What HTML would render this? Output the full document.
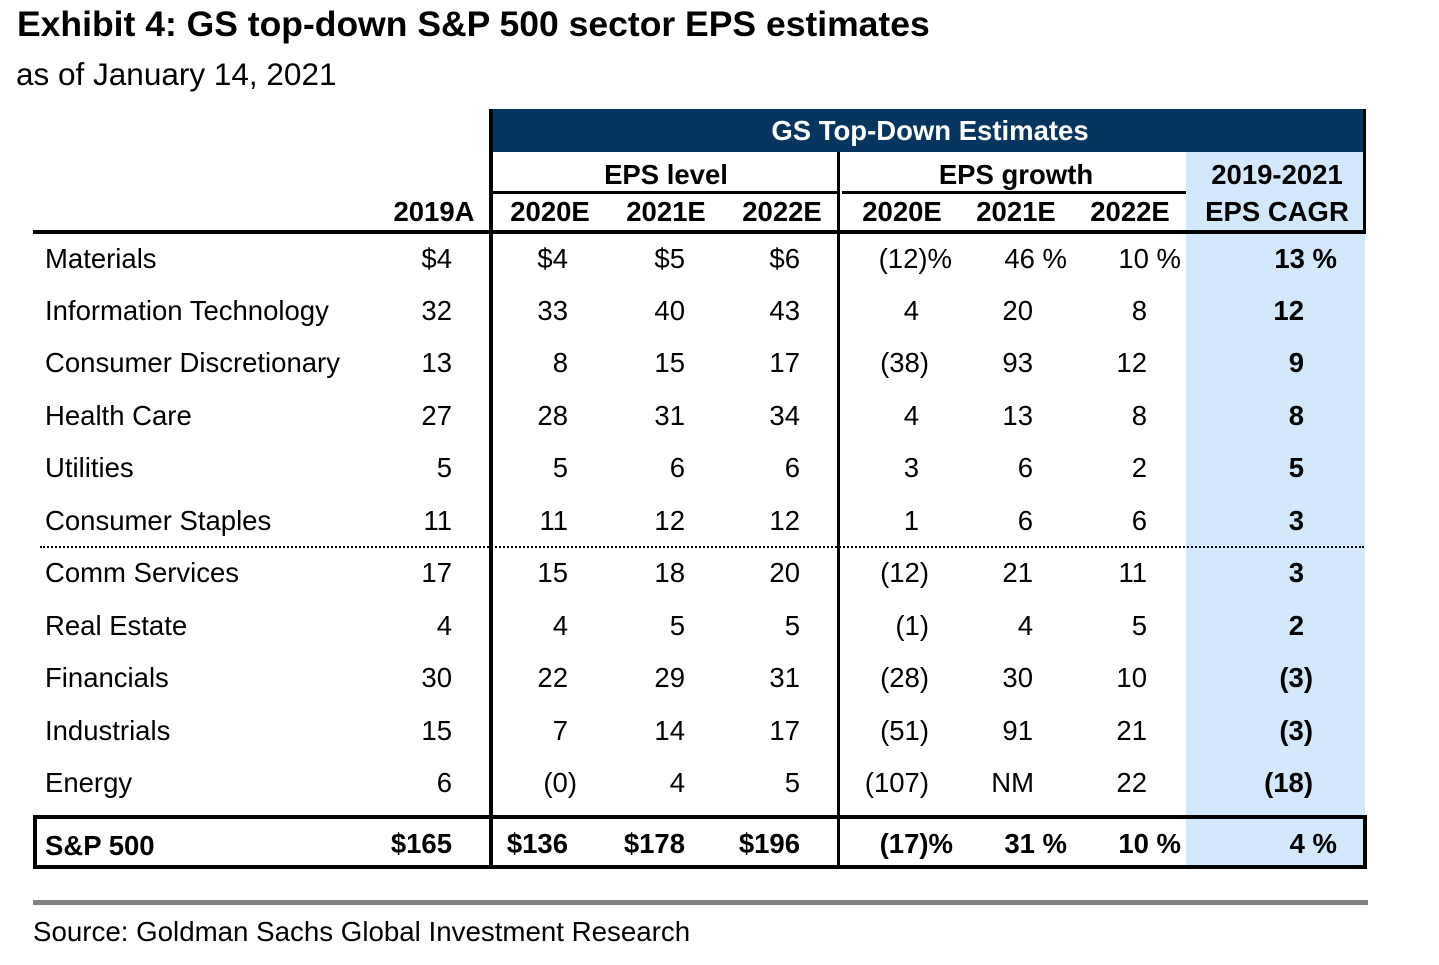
<!DOCTYPE html>
<html><head><meta charset="utf-8"><style>
body{margin:0;width:1439px;height:965px;background:#fff;position:relative;overflow:hidden;font-family:"Liberation Sans",Arial,sans-serif;color:#000}
div{position:absolute;white-space:nowrap}
.r,.c,.l{height:30px;line-height:30px;font-size:27.5px}
.r{left:0;text-align:right}
.c{text-align:center;width:400px}
.b{font-weight:bold}
</style></head><body>
<div style="left:17px;top:4px;font-size:35.5px;font-weight:bold;line-height:40px">Exhibit 4: GS top-down S&amp;P 500 sector EPS estimates</div>
<div style="left:16px;top:56px;font-size:31.5px;line-height:36px">as of January 14, 2021</div>

<div style="left:1186px;top:152px;width:179px;height:663px;background:#d3e8fb"></div>
<div style="left:1186px;top:815px;width:179px;height:52px;background:#d3e8fb"></div>
<div style="left:490px;top:109px;width:876px;height:43px;background:#06365f"></div>
<div style="left:489px;top:109px;width:4px;height:759px;background:#000"></div>
<div style="left:837px;top:152px;width:3px;height:716px;background:#000"></div>
<div style="left:1363px;top:109px;width:3px;height:124px;background:#000"></div>
<div style="left:492px;top:191px;width:346px;height:3px;background:#000"></div>
<div style="left:842px;top:191px;width:344px;height:3px;background:#000"></div>
<div style="left:33px;top:230px;width:1333px;height:4px;background:#000"></div>
<div style="left:40px;top:546px;width:1324px;height:0;border-top:2px dotted #000"></div>
<div style="left:33px;top:815px;width:1326px;height:46px;border:4px solid #000"></div>
<div style="left:33px;top:900px;width:1335px;height:5px;background:#808080"></div>
<div style="left:33px;top:916px;font-size:27.7px;line-height:32px">Source: Goldman Sachs Global Investment Research</div>

<div class="c b" style="left:730px;top:116px;color:#fff;">GS Top-Down Estimates</div>
<div class="c b" style="left:466px;top:160px">EPS level</div>
<div class="c b" style="left:816px;top:160px">EPS growth</div>
<div class="c b" style="left:1077px;top:160px">2019-2021</div>
<div class="c b" style="left:1077px;top:197px">EPS CAGR</div>
<div class="c b" style="left:234px;top:197px">2019A</div>
<div class="c b" style="left:350px;top:197px">2020E</div>
<div class="c b" style="left:466px;top:197px">2021E</div>
<div class="c b" style="left:582px;top:197px">2022E</div>
<div class="c b" style="left:702px;top:197px">2020E</div>
<div class="c b" style="left:816px;top:197px">2021E</div>
<div class="c b" style="left:930px;top:197px">2022E</div>

<div class="l" style="left:45px;top:244px">Materials</div>
<div class="l" style="left:45px;top:296px">Information Technology</div>
<div class="l" style="left:45px;top:348px">Consumer Discretionary</div>
<div class="l" style="left:45px;top:401px">Health Care</div>
<div class="l" style="left:45px;top:453px">Utilities</div>
<div class="l" style="left:45px;top:506px">Consumer Staples</div>
<div class="l" style="left:45px;top:558px">Comm Services</div>
<div class="l" style="left:45px;top:611px">Real Estate</div>
<div class="l" style="left:45px;top:663px">Financials</div>
<div class="l" style="left:45px;top:716px">Industrials</div>
<div class="l" style="left:45px;top:768px">Energy</div>
<div class="l b" style="left:45px;top:831px">S&amp;P 500</div>

<div class="r" style="top:244px;width:452px">$4</div>
<div class="r" style="top:244px;width:568px">$4</div>
<div class="r" style="top:244px;width:685px">$5</div>
<div class="r" style="top:244px;width:800px">$6</div>
<div class="r" style="top:244px;width:952px">(12)%</div>
<div class="r" style="top:244px;width:1067px">46 %</div>
<div class="r" style="top:244px;width:1181px">10 %</div>
<div class="r b" style="top:244px;width:1337px">13 %</div>

<div class="r" style="top:296px;width:452px">32</div>
<div class="r" style="top:296px;width:568px">33</div>
<div class="r" style="top:296px;width:685px">40</div>
<div class="r" style="top:296px;width:800px">43</div>
<div class="r" style="top:296px;width:919px">4</div>
<div class="r" style="top:296px;width:1033px">20</div>
<div class="r" style="top:296px;width:1147px">8</div>
<div class="r b" style="top:296px;width:1304px">12</div>

<div class="r" style="top:348px;width:452px">13</div>
<div class="r" style="top:348px;width:568px">8</div>
<div class="r" style="top:348px;width:685px">15</div>
<div class="r" style="top:348px;width:800px">17</div>
<div class="r" style="top:348px;width:929px">(38)</div>
<div class="r" style="top:348px;width:1033px">93</div>
<div class="r" style="top:348px;width:1147px">12</div>
<div class="r b" style="top:348px;width:1304px">9</div>

<div class="r" style="top:401px;width:452px">27</div>
<div class="r" style="top:401px;width:568px">28</div>
<div class="r" style="top:401px;width:685px">31</div>
<div class="r" style="top:401px;width:800px">34</div>
<div class="r" style="top:401px;width:919px">4</div>
<div class="r" style="top:401px;width:1033px">13</div>
<div class="r" style="top:401px;width:1147px">8</div>
<div class="r b" style="top:401px;width:1304px">8</div>

<div class="r" style="top:453px;width:452px">5</div>
<div class="r" style="top:453px;width:568px">5</div>
<div class="r" style="top:453px;width:685px">6</div>
<div class="r" style="top:453px;width:800px">6</div>
<div class="r" style="top:453px;width:919px">3</div>
<div class="r" style="top:453px;width:1033px">6</div>
<div class="r" style="top:453px;width:1147px">2</div>
<div class="r b" style="top:453px;width:1304px">5</div>

<div class="r" style="top:506px;width:452px">11</div>
<div class="r" style="top:506px;width:568px">11</div>
<div class="r" style="top:506px;width:685px">12</div>
<div class="r" style="top:506px;width:800px">12</div>
<div class="r" style="top:506px;width:919px">1</div>
<div class="r" style="top:506px;width:1033px">6</div>
<div class="r" style="top:506px;width:1147px">6</div>
<div class="r b" style="top:506px;width:1304px">3</div>

<div class="r" style="top:558px;width:452px">17</div>
<div class="r" style="top:558px;width:568px">15</div>
<div class="r" style="top:558px;width:685px">18</div>
<div class="r" style="top:558px;width:800px">20</div>
<div class="r" style="top:558px;width:929px">(12)</div>
<div class="r" style="top:558px;width:1033px">21</div>
<div class="r" style="top:558px;width:1147px">11</div>
<div class="r b" style="top:558px;width:1304px">3</div>

<div class="r" style="top:611px;width:452px">4</div>
<div class="r" style="top:611px;width:568px">4</div>
<div class="r" style="top:611px;width:685px">5</div>
<div class="r" style="top:611px;width:800px">5</div>
<div class="r" style="top:611px;width:929px">(1)</div>
<div class="r" style="top:611px;width:1033px">4</div>
<div class="r" style="top:611px;width:1147px">5</div>
<div class="r b" style="top:611px;width:1304px">2</div>

<div class="r" style="top:663px;width:452px">30</div>
<div class="r" style="top:663px;width:568px">22</div>
<div class="r" style="top:663px;width:685px">29</div>
<div class="r" style="top:663px;width:800px">31</div>
<div class="r" style="top:663px;width:929px">(28)</div>
<div class="r" style="top:663px;width:1033px">30</div>
<div class="r" style="top:663px;width:1147px">10</div>
<div class="r b" style="top:663px;width:1313px">(3)</div>

<div class="r" style="top:716px;width:452px">15</div>
<div class="r" style="top:716px;width:568px">7</div>
<div class="r" style="top:716px;width:685px">14</div>
<div class="r" style="top:716px;width:800px">17</div>
<div class="r" style="top:716px;width:929px">(51)</div>
<div class="r" style="top:716px;width:1033px">91</div>
<div class="r" style="top:716px;width:1147px">21</div>
<div class="r b" style="top:716px;width:1313px">(3)</div>

<div class="r" style="top:768px;width:452px">6</div>
<div class="r" style="top:768px;width:577px">(0)</div>
<div class="r" style="top:768px;width:685px">4</div>
<div class="r" style="top:768px;width:800px">5</div>
<div class="r" style="top:768px;width:929px">(107)</div>
<div class="r" style="top:768px;width:1034px">NM</div>
<div class="r" style="top:768px;width:1147px">22</div>
<div class="r b" style="top:768px;width:1313px">(18)</div>

<div class="r b" style="top:829px;width:452px">$165</div>
<div class="r b" style="top:829px;width:568px">$136</div>
<div class="r b" style="top:829px;width:685px">$178</div>
<div class="r b" style="top:829px;width:800px">$196</div>
<div class="r b" style="top:829px;width:953px">(17)%</div>
<div class="r b" style="top:829px;width:1067px">31 %</div>
<div class="r b" style="top:829px;width:1181px">10 %</div>
<div class="r b" style="top:829px;width:1337px">4 %</div>
</body></html>
